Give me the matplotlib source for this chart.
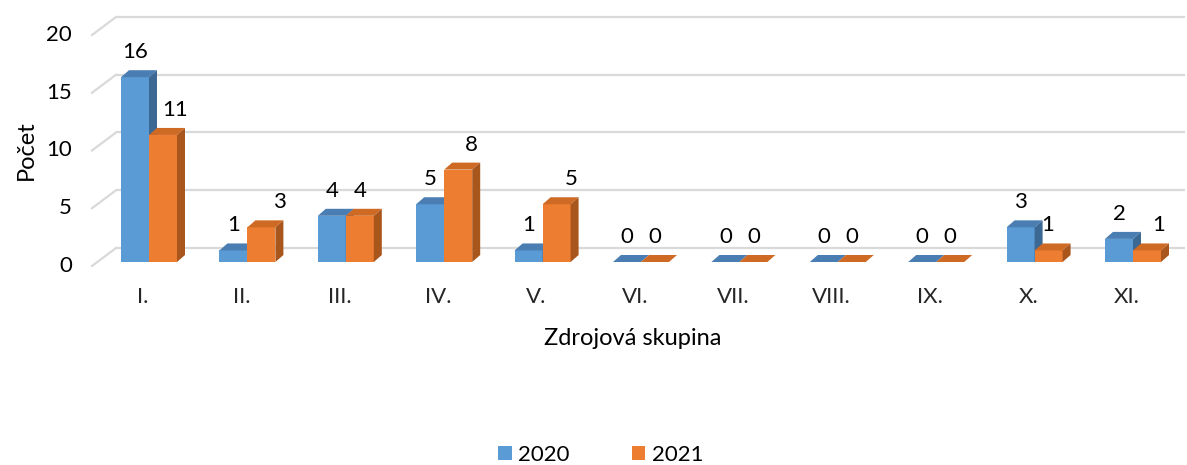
import matplotlib
matplotlib.use("Agg")
import matplotlib.pyplot as plt
from matplotlib.transforms import ScaledTranslation, blended_transform_factory
from matplotlib.patches import Polygon, Patch

categories = ["I.", "II.", "III.", "IV.", "V.", "VI.", "VII.", "VIII.", "IX.", "X.", "XI."]
values_2020 = [16, 1, 4, 5, 1, 0, 0, 0, 0, 3, 2]
values_2021 = [11, 3, 4, 8, 5, 0, 0, 0, 0, 1, 1]
series_names = ["2020", "2021"]
y_ticks = [0, 5, 10, 15, 20]

# style
FONT = "Lato"
plt.rcParams["font.family"] = [FONT, "DejaVu Sans"]
DPI = 100
W, H = 1187, 465
colors = {
    "2020": ("#5B9BD5", "#4A7DB2", "#3C6894"),
    "2021": ("#ED7D31", "#CF6A24", "#A9561C"),
}
label_nudge = {"2020": [0] * 11, "2021": [12, 18, 0, 13, 15, 0, 0, 0, 0, -1, 12]}
NUM_FS = 16
TITLE_FS = 17

fig = plt.figure(figsize=(W / DPI, H / DPI), dpi=DPI)

# front plane in pixels
left_px, right_px = 92, 1161
y0_px, y20_px = 266, 35
cat0_px, step_px = 149, 98.4
ax = fig.add_axes([left_px / W, (H - y0_px) / H, (right_px - left_px) / W, (y0_px - y20_px) / H])
xlim = ((left_px - cat0_px) / step_px, (right_px - cat0_px) / step_px)
ax.set_xlim(*xlim)
ax.set_ylim(0, 20)
ax.axis("off")

def off(dx_px, dy_px):
    # dy positive = up
    return ScaledTranslation(dx_px / DPI, dy_px / DPI, fig.dpi_scale_trans)

# back wall gridlines
depth_dx, depth_dy = 24, 18
back = ax.transData + off(depth_dx, depth_dy)
for t in y_ticks:
    ax.plot([xlim[0], xlim[1]], [t, t], color="#D9D9D9", lw=1.6, transform=back,
            clip_on=False, zorder=0, solid_capstyle="butt")
    p_front = ax.transData.transform((xlim[0], t))
    p_back = back.transform((xlim[0], t))
    ax.plot([p_front[0], p_back[0]], [p_front[1], p_back[1]], color="#D9D9D9", lw=1.6,
            transform=None, clip_on=False, zorder=0)

# bars with pseudo-3D faces
px_per_x = step_px
px_per_y = (y0_px - y20_px) / 20.0
bar_w = 28 / px_per_x
bx, by = 8 / px_per_x, 7 / px_per_y
bars_tr = ax.transData + off(0, 4)
series = [values_2020, values_2021]
for i in range(len(categories)):
    for s, (name, vals) in enumerate(zip(series_names, series)):
        front, top, side = colors[name]
        x0 = i - bar_w + s * bar_w
        x1 = x0 + bar_w
        h = vals[i]
        z = 3 + i * 4 + s * 2
        ax.bar(x0, h, width=bar_w, align="edge", color=front, transform=bars_tr,
               zorder=z, clip_on=False, linewidth=0)
        ax.add_patch(Polygon([(x0, h), (x1, h), (x1 + bx, h + by), (x0 + bx, h + by)],
                             closed=True, facecolor=top, edgecolor="none",
                             transform=bars_tr, zorder=z, clip_on=False))
        ax.add_patch(Polygon([(x1, 0), (x1, h), (x1 + bx, h + by), (x1 + bx, by)],
                             closed=True, facecolor=side, edgecolor="none",
                             transform=bars_tr, zorder=z, clip_on=False))
        ax.text((x0 + x1) / 2, h, str(h), ha="center", va="center", fontsize=NUM_FS,
                color="black", transform=bars_tr + off(label_nudge[name][i], 25),
                zorder=100, clip_on=False)

# category labels
xt = blended_transform_factory(ax.transData, ax.transAxes)
for i, c in enumerate(categories):
    ax.text(i, 0, c, ha="center", va="center", fontsize=NUM_FS, color="#262626",
            transform=xt + off(-6, -31), clip_on=False)

# y tick labels
yt = blended_transform_factory(ax.transAxes, ax.transData)
for t in y_ticks:
    ax.text(0, t, str(t), ha="right", va="center", fontsize=NUM_FS, color="black",
            transform=yt + off(-20, 0), clip_on=False)

fig.text(633 / W, 1 - 338 / H, "Zdrojová skupina", ha="center", va="center", fontsize=TITLE_FS, color="black")
fig.text(26 / W, 1 - 150 / H, "Počet", ha="center", va="center", rotation=90, fontsize=TITLE_FS, color="black")

handles = [Patch(facecolor=colors[n][0], edgecolor="none", label=n) for n in series_names]
fig.legend(handles=handles, loc="center", bbox_to_anchor=(601 / W, 1 - 455 / H), ncol=2,
           frameon=False, fontsize=NUM_FS, handlelength=0.6, handleheight=0.6,
           handletextpad=0.3, columnspacing=2.8, borderpad=0)

fig.savefig("out.png", dpi=DPI)
